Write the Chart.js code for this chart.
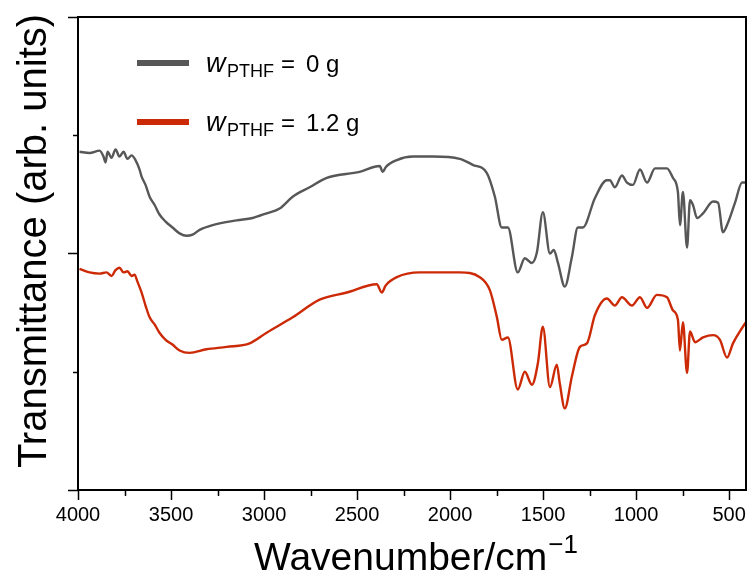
<!DOCTYPE html>
<html>
<head>
<meta charset="utf-8">
<script src="https://cdn.jsdelivr.net/npm/chart.js@4.4.1/dist/chart.umd.min.js"></script>
<style>
  html, body { margin: 0; padding: 0; background: #ffffff; }
  #wrap { width: 750px; height: 579px; }
</style>
</head>
<body>
<div id="wrap"><canvas id="c" width="750" height="579"></canvas></div>
<script>
// ---- data ----
const seriesNames = ["0 g", "1.2 g"];
const xTickValues = [4000, 3500, 3000, 2500, 2000, 1500, 1000, 500];
const xMinorTickValues = [3750, 3250, 2750, 2250, 1750, 1250, 750];
const yMajorTickValues = [0, 2, 4];
const yMinorTickValues = [1, 3];

const grayWn = [3992,3938,3884,3863,3852,3841,3820,3798,3777,3755,3734,3712,3691,3669,3658,3637,3615,3588,3562,3529,3492,3454,3416,3384,3346,3276,3147,3061,2986,2916,2846,2755,2663,2486,2378,2362,2346,2286,2200,2093,1948,1878,1802,1759,1722,1689,1636,1598,1560,1533,1501,1463,1442,1420,1383,1345,1313,1286,1221,1157,1141,1114,1076,1049,1017,979,941,898,834,802,775,764,748,726,710,694,672,640,586,559,533,506,468,430,409];
const grayT = [2.86,2.85,2.87,2.82,2.77,2.86,2.81,2.88,2.82,2.86,2.80,2.83,2.79,2.71,2.65,2.58,2.48,2.41,2.33,2.27,2.22,2.17,2.15,2.16,2.20,2.24,2.28,2.30,2.34,2.38,2.48,2.56,2.64,2.69,2.74,2.69,2.73,2.79,2.82,2.82,2.80,2.75,2.68,2.48,2.22,2.22,1.84,1.96,1.92,2.01,2.35,2.00,2.03,1.92,1.72,1.97,2.22,2.22,2.47,2.62,2.62,2.56,2.66,2.60,2.58,2.71,2.60,2.72,2.72,2.64,2.52,2.24,2.52,2.05,2.45,2.41,2.30,2.34,2.44,2.43,2.18,2.26,2.43,2.60,2.60];

const redWn = [3992,3938,3884,3847,3820,3798,3777,3755,3734,3712,3696,3680,3658,3637,3615,3588,3562,3529,3492,3454,3400,3309,3201,3077,2986,2846,2701,2555,2394,2367,2346,2286,2163,1948,1840,1786,1748,1722,1689,1636,1598,1560,1528,1501,1463,1426,1410,1383,1345,1302,1264,1221,1157,1114,1076,1022,979,941,888,834,802,775,764,748,726,710,683,640,586,549,511,479,430,409];
const redT = [1.87,1.84,1.83,1.84,1.81,1.86,1.88,1.84,1.85,1.81,1.82,1.76,1.67,1.56,1.46,1.40,1.33,1.27,1.23,1.18,1.16,1.19,1.21,1.24,1.33,1.46,1.61,1.67,1.74,1.67,1.73,1.80,1.84,1.84,1.80,1.69,1.46,1.27,1.29,0.85,1.00,0.89,1.07,1.38,0.87,1.06,0.90,0.69,0.96,1.21,1.24,1.48,1.62,1.56,1.63,1.56,1.63,1.54,1.65,1.63,1.52,1.44,1.18,1.42,0.99,1.34,1.25,1.29,1.31,1.27,1.12,1.24,1.37,1.42];

const GRAY = '#575757';
const RED = '#cc2a06';
const FONT = '"Liberation Sans", Arial, Helvetica, sans-serif';

function toPoints(xs, ys) { return xs.map((x, i) => ({ x: x, y: ys[i] })); }

const decorPlugin = {
  id: 'decor',
  afterDraw(chart) {
    const ctx = chart.ctx;
    const a = chart.chartArea;
    const xs = chart.scales.x, ys = chart.scales.y;
    ctx.save();
    // frame
    ctx.strokeStyle = '#000';
    ctx.lineWidth = 2;
    ctx.strokeRect(a.left, a.top, a.right - a.left, a.bottom - a.top);
    // minor ticks
    ctx.lineWidth = 1.5;
    ctx.beginPath();
    xMinorTickValues.forEach(v => {
      const px = Math.round(xs.getPixelForValue(v)) + 0.5;
      ctx.moveTo(px, a.bottom); ctx.lineTo(px, a.bottom + 6);
    });
    yMinorTickValues.forEach(v => {
      const py = Math.round(ys.getPixelForValue(v)) + 0.5;
      ctx.moveTo(a.left, py); ctx.lineTo(a.left - 5, py);
    });
    ctx.stroke();

    // y title
    ctx.fillStyle = '#000';
    ctx.save();
    ctx.translate(46, 241);
    ctx.rotate(-Math.PI / 2);
    ctx.font = '40px ' + FONT;
    ctx.textAlign = 'center';
    ctx.textBaseline = 'alphabetic';
    ctx.fillText('Transmittance (arb. units)', 0, 0);
    ctx.restore();

    // x title with superscript
    ctx.textAlign = 'left';
    ctx.textBaseline = 'alphabetic';
    ctx.font = '39px ' + FONT;
    const main = 'Wavenumber/cm';
    const w1 = ctx.measureText(main).width;
    ctx.font = '26px ' + FONT;
    const sup = '\u22121';
    const w2 = ctx.measureText(sup).width;
    const cx = 416;
    const x0 = cx - (w1 + w2 + 1) / 2;
    ctx.font = '39px ' + FONT;
    ctx.fillText(main, x0, 570);
    ctx.font = '26px ' + FONT;
    ctx.fillText(sup, x0 + w1 + 1, 553);

    // legend
    const rows = [
      { color: GRAY, y: 63, label: seriesNames[0] },
      { color: RED, y: 122, label: seriesNames[1] }
    ];
    rows.forEach(r => {
      ctx.strokeStyle = r.color;
      ctx.lineWidth = 6;
      ctx.lineCap = 'butt';
      ctx.beginPath();
      ctx.moveTo(137, r.y); ctx.lineTo(189, r.y);
      ctx.stroke();
      const base = r.y + 9;
      ctx.fillStyle = '#000';
      ctx.font = 'italic 27px ' + FONT;
      ctx.fillText('w', 206, base);
      ctx.font = '18px ' + FONT;
      ctx.fillText('PTHF', 227, base + 5);
      ctx.font = '24px ' + FONT;
      ctx.fillText('=', 281, base);
      ctx.fillText(r.label, 306, base);
    });
    ctx.restore();
  }
};

new Chart(document.getElementById('c'), {
  type: 'line',
  data: {
    datasets: [
      { label: 'w_PTHF = ' + seriesNames[0], data: toPoints(grayWn, grayT), borderColor: GRAY, borderWidth: 2.4, pointRadius: 0, cubicInterpolationMode: 'monotone', fill: false },
      { label: 'w_PTHF = ' + seriesNames[1], data: toPoints(redWn, redT), borderColor: RED, borderWidth: 2.4, pointRadius: 0, cubicInterpolationMode: 'monotone', fill: false }
    ]
  },
  options: {
    responsive: false,
    animation: false,
    layout: { padding: { top: 17, right: 4, left: 0, bottom: 0 } },
    plugins: { legend: { display: false }, tooltip: { enabled: false }, title: { display: false } },
    scales: {
      x: {
        type: 'linear',
        reverse: true,
        min: 409,
        max: 4000,
        afterBuildTicks: s => { s.ticks = xTickValues.map(v => ({ value: v })); },
        afterFit: s => { s.height = 89; },
        border: { display: false },
        grid: { drawOnChartArea: false, drawTicks: true, tickLength: 10, tickColor: '#000', tickWidth: 1.5 },
        ticks: { color: '#000', font: { family: FONT, size: 20 }, padding: 3, maxRotation: 0, autoSkip: false, callback: v => String(v) }
      },
      y: {
        type: 'linear',
        min: 0,
        max: 4,
        afterBuildTicks: s => { s.ticks = yMajorTickValues.map(v => ({ value: v })); },
        afterFit: s => { s.width = 78; },
        border: { display: false },
        grid: { drawOnChartArea: false, drawTicks: true, tickLength: 10, tickColor: '#000', tickWidth: 1.5 },
        ticks: { callback: () => '' }
      }
    }
  },
  plugins: [decorPlugin]
});
</script>
</body>
</html>
